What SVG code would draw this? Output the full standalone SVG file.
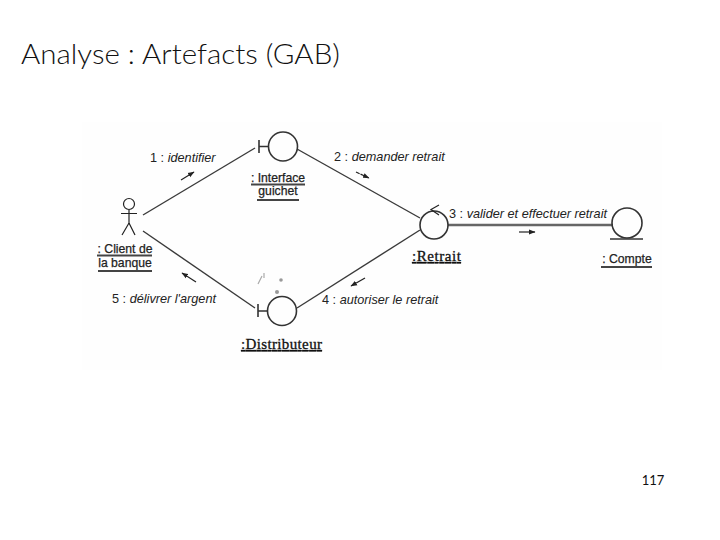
<svg xmlns="http://www.w3.org/2000/svg" width="720" height="540" viewBox="0 0 720 540">
<style>
.l{fill:none;stroke:#3a3a3a;stroke-width:1.4}
.s{fill:none;stroke:#222;stroke-width:1.2}
.b{fill:none;stroke:#333;stroke-width:1.6}
.u{stroke:#444;stroke-width:1.8}
.t{font-family:"Liberation Sans",Arial,sans-serif;font-size:12.7px;fill:#222}
.i{font-style:italic}
.n{font-family:"Liberation Sans",Arial,sans-serif;font-size:12.2px;fill:#222;text-anchor:middle;stroke:#222;stroke-width:.25}
.r{font-family:"Liberation Serif","Times New Roman",serif;font-size:15px;fill:#111;stroke:#111;stroke-width:.3;text-decoration:underline}
.p{fill:#999}
</style>
<defs><marker id="a" markerWidth="7" markerHeight="6" refX="6" refY="3" orient="auto" markerUnits="userSpaceOnUse"><path d="M0 0.5L6.500 3L0 5.500z" fill="#222"/></marker></defs>
<rect width="720" height="540" fill="#fff"/>
<rect x="82" y="122" width="580" height="248" fill="#fefefe"/>
<text x="21" y="64" font-family="Lato,'Open Sans',sans-serif" font-size="27" font-weight="300" fill="#111" textLength="319" lengthAdjust="spacingAndGlyphs">Analyse : Artefacts (GAB)</text>
<g id="connectors">
<path class="l" d="M143 215L255 148"/>
<path class="l" d="M297 149L420 218"/>
<path class="l" d="M420 230L297 308"/>
<path class="l" d="M255 308L143 231"/>
<path d="M448 225H613" fill="none" stroke="#666" stroke-width="2.400"/>
<path class="s" marker-end="url(#a)" d="M181 180L194 172"/>
<path class="s" marker-end="url(#a)" stroke-dasharray="4 1" d="M356 172L369 178"/>
<path class="s" marker-end="url(#a)" d="M519 232H535"/>
<path class="s" marker-end="url(#a)" d="M365 278L351 286"/>
<path class="s" marker-end="url(#a)" d="M196 282L182 273"/>
<text class="t" x="150" y="162">1 : <tspan class="i">identifier</tspan></text>
<text class="t" x="334" y="161">2 : <tspan class="i">demander retrait</tspan></text>
<text class="t" x="449" y="218">3 : <tspan class="i">valider et effectuer retrait</tspan></text>
<text class="t" x="322" y="304">4 : <tspan class="i">autoriser le retrait</tspan></text>
<text class="t" x="112" y="303">5 : <tspan class="i">délivrer l'argent</tspan></text>
<path d="M258 284L262 276M264 278V273" fill="none" stroke="#aaa" stroke-width="1.2"/>
<circle class="p" cx="281" cy="280" r="1.800"/>
<circle class="p" cx="277" cy="292" r="2"/>
</g>
<g id="actor-client">
<circle class="s" cx="129" cy="204" r="5.500"/>
<path class="s" d="M129 210V223M121 213.500H137M129 223L122 235M129 223L135 235"/>
<text class="n" x="125" y="253">: Client de</text>
<text class="n" x="125" y="267">la banque</text>
<path class="u" d="M97 255.500H152M98 271H152"/>
</g>
<g id="interface-guichet">
<circle class="b" cx="283" cy="146.500" r="14.500"/>
<path class="b" d="M259 140V153M259 146.500H268.500"/>
<text class="n" x="278" y="182">: Interface</text>
<text class="n" x="278" y="195">guichet</text>
<path class="u" d="M251 184.500H305M257 200H299"/>
</g>
<g id="distributeur">
<circle class="b" cx="282" cy="311" r="14.500"/>
<path class="b" d="M258 304V317M258 311H267.500"/>
<text class="r" x="241" y="349" textLength="81">:Distributeur</text>
</g>
<g id="retrait">
<circle class="b" cx="434" cy="225" r="14"/>
<path class="s" d="M439 205L431 209.500L439 215"/>
<text class="r" x="412" y="261" textLength="49">:Retrait</text>
</g>
<g id="compte">
<circle class="b" cx="627" cy="223" r="15"/>
<path class="b" d="M610 239H643"/>
<text class="n" x="627" y="263">: Compte</text>
<path class="u" d="M601 267H652"/>
</g>
<text x="653" y="485" font-family="Lato,'Open Sans',sans-serif" font-size="13" fill="#111" text-anchor="middle">117</text>
</svg>
